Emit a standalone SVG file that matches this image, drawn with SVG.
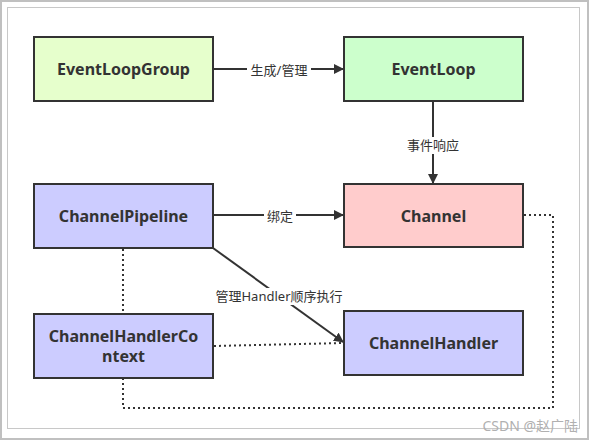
<svg xmlns="http://www.w3.org/2000/svg" width="592" height="443" viewBox="0 0 592 443">
<defs>
<marker id="arr" viewBox="0 0 10 10" refX="9" refY="5" markerWidth="10" markerHeight="10" markerUnits="userSpaceOnUse" orient="auto">
<path d="M0,0 L10,5 L0,10 z" fill="#333"/>
</marker>
<style>
.box{stroke:#333;stroke-width:2}
.t{font-family:"Noto Sans","Open Sans",sans-serif;font-weight:bold;font-size:16px;fill:#333;text-anchor:middle}
.lbl{font-family:"Noto Sans","Noto Sans CJK SC",sans-serif;font-size:13px;fill:#333;text-anchor:middle}
.ln{stroke:#333;stroke-width:2;fill:none}
.dot{stroke:#333;stroke-width:2;fill:none;stroke-dasharray:2 3}
</style>
</defs>
<rect x="0" y="0" width="592" height="443" fill="#fff"/>
<rect x="1" y="1" width="587" height="438" fill="none" stroke="#c0c0c0" stroke-width="2"/>
<rect x="7.5" y="7.5" width="572" height="421" fill="none" stroke="#c8c8c8" stroke-width="1"/>
<g id="connectors">
<line class="ln" x1="214" y1="69" x2="343" y2="69" marker-end="url(#arr)"/>
<rect x="247" y="61" width="64" height="17" fill="#fff"/>
<text class="lbl" x="279" y="74.5">生成/管理</text>
<line class="ln" x1="433" y1="102" x2="433" y2="183" marker-end="url(#arr)"/>
<rect x="404" y="137" width="58" height="17" fill="#fff"/>
<text class="lbl" x="433" y="149.5">事件响应</text>
<line class="ln" x1="214" y1="215" x2="343" y2="215" marker-end="url(#arr)"/>
<rect x="264" y="207" width="32" height="17" fill="#fff"/>
<text class="lbl" x="280" y="220.5">绑定</text>
<line class="ln" x1="213" y1="248" x2="343" y2="342" marker-end="url(#arr)"/>
<rect x="212" y="288" width="134" height="17" fill="#fff"/>
<text class="lbl" x="279" y="300.5">管理Handler顺序执行</text>
<line class="dot" x1="123" y1="249" x2="123" y2="313"/>
<line class="dot" x1="214" y1="346" x2="343" y2="343"/>
<polyline class="dot" points="524,215 553,215 553,408 123,408 123,379"/>
</g>
<g id="EventLoopGroup"><rect class="box" x="34" y="37" width="179" height="64" fill="#e6ffcc"/><text class="t" x="123.5" y="75">EventLoopGroup</text></g>
<g id="EventLoop"><rect class="box" x="344" y="37" width="179" height="64" fill="#ccffcc"/><text class="t" x="433.5" y="75">EventLoop</text></g>
<g id="ChannelPipeline"><rect class="box" x="34" y="184" width="179" height="64" fill="#ccccff"/><text class="t" x="123.5" y="221.5">ChannelPipeline</text></g>
<g id="Channel"><rect class="box" x="344" y="184" width="179" height="63" fill="#ffcccc"/><text class="t" x="433.5" y="221.5">Channel</text></g>
<g id="ChannelHandlerContext"><rect class="box" x="34" y="314" width="179" height="64" fill="#ccccff"/><text class="t" x="123.5" y="342">ChannelHandlerCo</text><text class="t" x="123.5" y="362">ntext</text></g>
<g id="ChannelHandler"><rect class="box" x="344" y="311" width="179" height="64" fill="#ccccff"/><text class="t" x="433.5" y="349">ChannelHandler</text></g>
<text x="578" y="431" text-anchor="end" font-family="'Noto Sans','Noto Sans CJK SC',sans-serif" font-size="14" fill="#b0b0b0">CSDN @赵广陆</text>
</svg>
